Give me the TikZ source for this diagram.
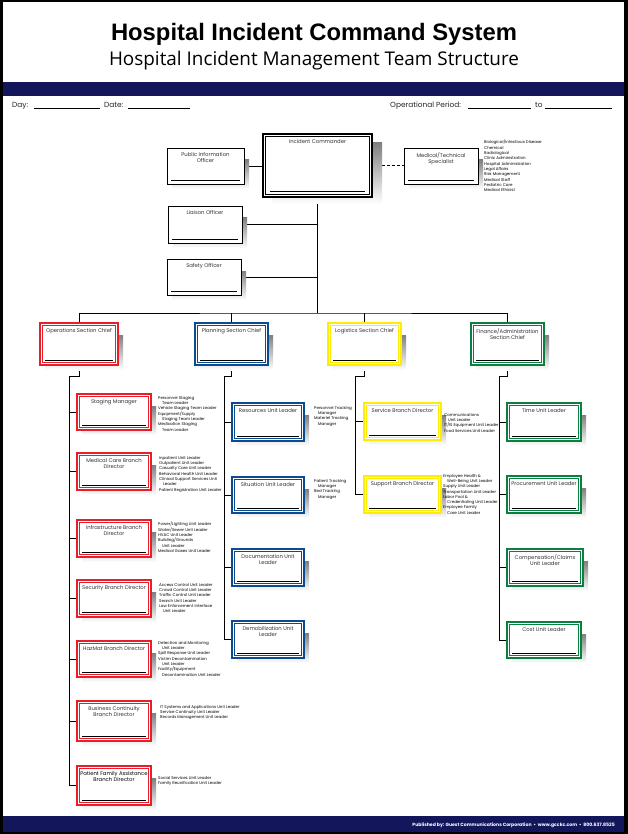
\documentclass[tikz,border=0pt]{standalone}
\usepackage{fontspec}
\setmainfont{Poppins}
\newfontfamily\titlefont{Liberation Sans}
\newfontfamily\subfont{Open Sans}
\usetikzlibrary{fit}
\pgfdeclarelayer{back}
\pgfdeclarelayer{wires}
\pgfsetlayers{back,wires,main}
\definecolor{navy}{RGB}{20,22,92}
\definecolor{hred}{RGB}{232,30,40}
\definecolor{hblue}{RGB}{10,75,145}
\definecolor{hyel}{RGB}{255,236,0}
\definecolor{hgreen}{RGB}{10,128,64}
\definecolor{shade}{RGB}{222,222,224}
\newcommand{\lstind}{\hspace*{4pt}}
\tikzset{
  lbl/.style={font=\fontsize{5.3}{6.2}\selectfont, align=center, anchor=north, inner sep=0, text=black!80},
  lst/.style={font=\fontsize{4}{5.3}\selectfont, align=left, anchor=north west, inner sep=0},
  hdr/.style={font=\fontsize{7.4}{8}\selectfont, inner sep=0, anchor=base west, text=black!85},
  conn/.style={line width=0.8pt, black},
}
% double coloured box: name, x1, y1, x2, y2, colour, label
\newcommand{\dblbox}[7]{%
  \fill[shade] (#2+5,#3+12) rectangle (#4+5,#5+5);
  \coordinate (#1-a) at (#2,#3);
  \coordinate (#1-b) at (#4,#5);
  \node[fit=(#1-a)(#1-b), inner sep=0, outer sep=0, draw=#6, line width=1.3pt, fill=white] (#1) {};
  \draw[#6, line width=0.6pt] ([shift={(2.4pt,-2.4pt)}]#1.north west) rectangle ([shift={(-2.4pt,2.4pt)}]#1.south east);
  \draw[line width=1pt] ([shift={(5pt,4.8pt)}]#1.south west) -- ([shift={(-5pt,4.8pt)}]#1.south east);
  \node[lbl] at ([yshift=-5pt]#1.north) {#7};
}
% single black box: name, x1, y1, x2, y2, label
\newcommand{\sglbox}[6]{%
  \fill[shade] (#2+5,#3+12) rectangle (#4+5,#5+5);
  \coordinate (#1-a) at (#2,#3);
  \coordinate (#1-b) at (#4,#5);
  \node[fit=(#1-a)(#1-b), inner sep=0, outer sep=0, draw=black, line width=0.8pt, fill=white] (#1) {};
  \draw[line width=1pt] ([shift={(4pt,3.5pt)}]#1.south west) -- ([shift={(-4pt,3.5pt)}]#1.south east);
  \node[lbl] at ([yshift=-4pt]#1.north) {#6};
}
\begin{document}
\begin{tikzpicture}[x=1pt,y=-1pt]
\useasboundingbox (0,0) rectangle (628,834);
\begin{pgfonlayer}{back}
  \fill[black] (0,0) rectangle (628,834);
  \fill[white] (3,2.5) rectangle (624,832);
  \fill[navy] (3,82) rectangle (624,96);
  \fill[navy] (3,816) rectangle (624,832);
\end{pgfonlayer}

% header
\node[font=\titlefont\bfseries\fontsize{23.8}{26}\selectfont, anchor=base, inner sep=0] (title) at (314,41) {Hospital Incident Command System};
\node[font=\subfont\fontsize{18.9}{21}\selectfont, anchor=base, inner sep=0] (subtitle) at (314,66) {Hospital Incident Management Team Structure};
\node[hdr] (day) at (12,108) {Day:};
\draw[line width=0.6pt] (34,108.5) -- (100,108.5);
\node[hdr] (date) at (104,108) {Date:};
\draw[line width=0.6pt] (128,108.5) -- (190,108.5);
\node[hdr] (period) at (390,108) {Operational Period:};
\draw[line width=0.6pt] (468,108.5) -- (531,108.5);
\node[hdr] (to) at (535,108) {to};
\draw[line width=0.6pt] (545,108.5) -- (612,108.5);
\node[font=\bfseries\fontsize{4.6}{5}\selectfont, text=white, anchor=base east, inner sep=0] (pub) at (615,826.5) {Published by: Guest Communications Corporation \ \textbullet\ \ www.gcckc.com \ \textbullet\ \ 800.637.8525};

% command staff
\fill[shade] (272,143) rectangle (382,204);
\coordinate (ic-a) at (263,134);
\coordinate (ic-b) at (372,197);
\node[fit=(ic-a)(ic-b), inner sep=0, outer sep=0, draw=black, line width=1.5pt, fill=white] (ic) {};
\draw[line width=0.5pt] ([shift={(2.3pt,-2.3pt)}]ic.north west) rectangle ([shift={(-2.3pt,2.3pt)}]ic.south east);
\draw[line width=1pt] ([shift={(7pt,5pt)}]ic.south west) -- ([shift={(-7pt,5pt)}]ic.south east);
\node[lbl] at ([yshift=-5pt]ic.north) {Incident Commander};

\sglbox{pio}{167}{148}{244}{184}{Public Information\\Officer}
\sglbox{mts}{404}{148}{478}{184}{Medical/Technical\\Specialist}
\sglbox{liaison}{168}{206}{242}{243}{Liaison Officer}
\sglbox{safety}{167}{259}{241}{295}{Safety Officer}

\node[lst] (mtsL) at (484,140) {Biological/Infectious Disease\\Chemical\\Radiological\\Clinic Administration\\Hospital Administration\\Legal Affairs\\Risk Management\\Medical Staff\\Pediatric Care\\Medical Ethicist};

% section chiefs
\dblbox{ops}{40}{323}{118}{365}{hred}{Operations Section Chief}
\dblbox{plan}{195}{323}{268}{365}{hblue}{Planning Section Chief}
\dblbox{log}{328}{323}{401}{365}{hyel}{Logistics Section Chief}
\dblbox{fin}{471}{323}{544}{365}{hgreen}{Finance/Administration\\Section Chief}

% operations
\dblbox{staging}{77}{394}{151}{430}{hred}{Staging Manager}
\dblbox{medcare}{77}{453}{151}{490}{hred}{Medical Care Branch\\Director}
\dblbox{infra}{77}{520}{151}{557}{hred}{Infrastructure Branch\\Director}
\dblbox{security}{77}{580}{151}{617}{hred}{Security Branch Director}
\dblbox{hazmat}{77}{641}{151}{677}{hred}{HazMat Branch Director}
\dblbox{buscont}{77}{701}{151}{741}{hred}{Business Continuity\\Branch Director}
\dblbox{pfa}{77}{766}{151}{805}{hred}{\textcolor{black}{Patient Family Assistance}\\\textcolor{black}{Branch Director}}

\node[lst] (stagingL) at (158,396) {Personnel Staging\\\lstind Team Leader\\Vehicle Staging Team Leader\\Equipment/Supply\\\lstind Staging Team Leader\\Medication Staging\\\lstind Team Leader};
\node[lst] (medcareL) at (159,456) {Inpatient Unit Leader\\Outpatient Unit Leader\\Casualty Care Unit Leader\\Behavioral Health Unit Leader\\Clinical Support Services Unit\\\lstind Leader\\Patient Registration Unit Leader};
\node[lst] (infraL) at (158,522) {Power/Lighting Unit Leader\\Water/Sewer Unit Leader\\HVAC Unit Leader\\Building/Grounds\\\lstind Unit Leader\\Medical Gases Unit Leader};
\node[lst] (securityL) at (159,583) {Access Control Unit Leader\\Crowd Control Unit Leader\\Traffic Control Unit Leader\\Search Unit Leader\\Law Enforcement Interface\\\lstind Unit Leader};
\node[lst] (hazmatL) at (158,641) {Detection and Monitoring\\\lstind Unit Leader\\Spill Response Unit Leader\\Victim Decontamination\\\lstind Unit Leader\\Facility/Equipment\\\lstind Decontamination Unit Leader};
\node[lst] (buscontL) at (160,705) {IT Systems and Applications Unit Leader\\Service Continuity Unit Leader\\Records Management Unit Leader};
\node[lst] (pfaL) at (158,776) {Social Services Unit Leader\\Family Reunification Unit Leader};

% planning
\dblbox{resources}{232}{403}{304}{441}{hblue}{Resources Unit Leader}
\dblbox{situation}{232}{477}{304}{513}{hblue}{Situation Unit Leader}
\dblbox{documentation}{232}{549}{304}{586}{hblue}{Documentation Unit\\Leader}
\dblbox{demob}{232}{621}{304}{658}{hblue}{Demobilization Unit\\Leader}
\node[lst] (resourcesL) at (314,406) {Personnel Tracking\\\lstind Manager\\Materiel Tracking\\\lstind Manager};
\node[lst] (situationL) at (314,479) {Patient Tracking\\\lstind Manager\\Bed Tracking\\\lstind Manager};

% logistics
\dblbox{service}{364}{403}{441}{440}{hyel}{Service Branch Director}
\dblbox{support}{364}{476}{441}{513}{hyel}{Support Branch Director}
\node[lst] (serviceL) at (444,413) {Communications\\\lstind Unit Leader\\IT/IS Equipment Unit Leader\\Food Services Unit Leader};
\node[lst] (supportL) at (443,474) {Employee Health \&\\\lstind Well-Being Unit Leader\\Supply Unit Leader\\Transportation Unit Leader\\Labor Pool \&\\\lstind Credentialing Unit Leader\\Employee Family\\\lstind Care Unit Leader};

% finance
\dblbox{time}{507}{403}{581}{441}{hgreen}{Time Unit Leader}
\dblbox{procurement}{507}{476}{581}{513}{hgreen}{Procurement Unit Leader}
\dblbox{comp}{507}{549}{583}{586}{hgreen}{Compensation/Claims\\Unit Leader}
\dblbox{cost}{507}{622}{581}{658}{hgreen}{Cost Unit Leader}

% connectors
\begin{pgfonlayer}{wires}
  \coordinate (hub) at (317.5,313);
  \draw[conn] (ic.south) -- (hub);
  \draw[conn] (pio.east) -- (pio.east -| ic.west);
  \draw[conn, dash pattern=on 3pt off 2pt] (ic.east) -- (ic.east -| mts.west);
  \draw[conn] (liaison.east) -- (liaison.east -| hub);
  \draw[conn] (safety.east) -- (safety.east -| hub);
  \draw[conn] (ops.north) |- (hub) -| (fin.north);
  \draw[conn] (plan.north) -- (plan.north |- hub);
  \draw[conn] (log.north) -- (log.north |- hub);
  \coordinate (opsJ) at (69,376);
  \coordinate (planJ) at (224,376);
  \coordinate (logJ) at (355,376);
  \coordinate (finJ) at (499,376);
  \draw[conn] (ops.south) |- (opsJ) -- (opsJ |- pfa.west);
  \foreach \n in {staging,medcare,infra,security,hazmat,buscont,pfa}
    \draw[conn] (opsJ |- \n.west) -- (\n.west);
  \draw[conn] (plan.south) |- (planJ) -- (planJ |- demob.west);
  \foreach \n in {resources,situation,documentation,demob}
    \draw[conn] (planJ |- \n.west) -- (\n.west);
  \draw[conn] (log.south) |- (logJ) -- (logJ |- support.west);
  \foreach \n in {service,support}
    \draw[conn] (logJ |- \n.west) -- (\n.west);
  \draw[conn] (fin.south) |- (finJ) -- (finJ |- cost.west);
  \foreach \n in {time,procurement,comp,cost}
    \draw[conn] (finJ |- \n.west) -- (\n.west);
\end{pgfonlayer}
\end{tikzpicture}
\end{document}
